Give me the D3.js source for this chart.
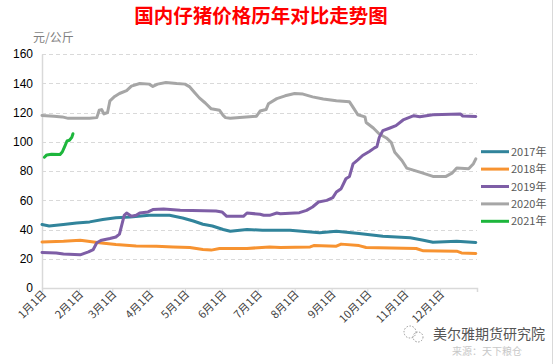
<!DOCTYPE html>
<html><head><meta charset="utf-8">
<script src="https://cdn.jsdelivr.net/npm/d3@7"></script>
<style>
html,body{margin:0;padding:0;background:#fff;}
svg{display:block;font-family:"Microsoft YaHei","Noto Sans CJK SC",sans-serif;}
</style></head>
<body>
<svg id="c" width="554" height="364"></svg>
<script>
// ---- data (day-of-year, value in 元/公斤) ----
const title = "国内仔猪价格历年对比走势图";
const unitLabel = "元/公斤";
const yTicks = [0, 20, 40, 60, 80, 100, 120, 140, 160];
const monthTicks = ["1月1日","2月1日","3月1日","4月1日","5月1日","6月1日","7月1日","8月1日","9月1日","10月1日","11月1日","12月1日"];
const seriesNames = ["2017年","2018年","2019年","2020年","2021年"];
const seriesColors = ["#31849B","#F79331","#7E5EA6","#A6A6A6","#1DB63C"];

const days2017 = [0,6,18,29,40,51,62,74,90,107,118,127,135,143,152,158,172,185,200,208,233,247,266,286,309,320,328,348,364];
const vals2017 = [43.4,42.4,43.4,44.5,45.2,46.8,48.1,48.6,49.7,49.7,47.9,45.8,43.6,42.4,40,38.8,40,39.5,39.5,39.5,37.7,38.8,37.2,35.4,34.3,32.7,31.3,32,31.1];

const days2018 = [0,18,32,37,48,62,79,96,110,124,135,142,149,172,191,200,225,228,247,251,266,272,314,320,348,352,364];
const vals2018 = [31.5,32,32.7,32.2,30.9,29.7,28.8,28.6,28.1,27.7,26.3,25.9,27,27,28.1,27.7,28.1,29,28.6,30,29,27.7,27,25.4,25.2,24,23.6];

const days2019 = [0,12,18,32,39,43,46,50,57,62,65,69,71,75,79,82,89,93,102,116,146,151,155,169,172,183,186,191,197,200,216,222,227,232,239,244,247,251,255,258,261,265,269,275,279,281,283,286,292,297,303,312,317,328,351,353,364];
const vals2019 = [24.3,24,23.2,22.7,24.7,26.3,30.9,32.7,33.8,34.9,36.8,49.7,51.3,49,49.7,51.3,52,53.6,54,53.1,52.6,52,49,49,51.3,50.4,49.7,49.7,51.3,50.8,51.5,53.1,55.4,58.8,59.9,61.8,65.6,67.9,74.7,76.3,84.9,87.6,90.6,93.5,95.8,96.7,103,107.6,109.4,111,114.9,117.8,117.1,118.5,119,117.6,117.3];

const days2020 = [0,10,17,22,30,40,46,48,50,52,55,57,61,65,71,75,82,90,93,97,104,113,120,124,128,132,137,142,149,152,154,158,166,180,183,188,190,197,204,212,219,227,236,247,258,262,265,271,272,278,283,289,293,296,302,306,317,328,339,344,348,358,362,364];
const vals2020 = [118,117.5,117,116,116,116,116.5,121.5,122,119,120,128,131,133,135,138,139.8,139.4,137.8,139.4,140.5,139.8,139.4,137.5,133.7,130,126.5,122.5,121.5,118,116.5,116,116.5,117.5,121,122,126,129.5,131.4,133,132.6,130.7,129.2,128,127.3,122.3,118.5,117,113.2,109.4,105.3,102.6,99.6,92.8,87.2,82,79.2,76.3,76.3,78.5,82,81.5,85,88.3];

const days2021 = [2,4,8,15,17,19,21,23,25,26];
const vals2021 = [89.4,91,91.5,91.2,93,96.7,100.5,101,103,105.5];

const seriesDays = [days2017, days2018, days2019, days2020, days2021];
const seriesVals = [vals2017, vals2018, vals2019, vals2020, vals2021];

// ---- layout ----
const svg = d3.select("#c");
const W = 554, H = 364;
const m = {left: 42, right: 477, top: 54, bottom: 288};
const t0 = new Date(2021, 0, 1), t1 = new Date(2022, 0, 1);
const x = d3.scaleTime().domain([t0, t1]).range([m.left, m.right]);
const y = d3.scaleLinear().domain([0, 160]).range([m.bottom, m.top]);
const dayToDate = d => d3.timeDay.offset(t0, d);

// right border
svg.append("line").attr("x1", 552.5).attr("x2", 552.5).attr("y1", 0).attr("y2", H)
  .attr("stroke", "#d9d9d9").attr("stroke-width", 1);

// title
svg.append("text").attr("x", 261).attr("y", 23).attr("text-anchor", "middle")
  .attr("fill", "#FF0000").attr("font-size", 19.5).attr("font-weight", "bold")
  .style("font-family", "'Noto Sans CJK SC',sans-serif").text(title);

// unit
svg.append("text").attr("x", 33).attr("y", 42).attr("fill", "#7f7f7f")
  .attr("font-size", 12).text(unitLabel);

// grid
svg.append("g").selectAll("line").data(yTicks.filter(v => v > 0)).join("line")
  .attr("x1", m.left).attr("x2", m.right)
  .attr("y1", d => Math.round(y(d)) + 0.5).attr("y2", d => Math.round(y(d)) + 0.5)
  .attr("stroke", "#d9d9d9").attr("stroke-dasharray", "4,3");

// y axis
const yAxis = d3.axisLeft(y).tickValues(yTicks).tickSize(0).tickPadding(9);
const gy = svg.append("g").attr("transform", `translate(${m.left},0)`).call(yAxis);
gy.select(".domain").attr("stroke", "#d9d9d9").attr("stroke-width", 1.5);
gy.selectAll("text").attr("fill", "#000").attr("font-size", 12)
  .style("font-family", "'Liberation Sans',Arial,sans-serif");

// x axis
const monthDates = d3.range(12).map(i => new Date(2021, i, 1)).concat([t1]);
const xAxis = d3.axisBottom(x).tickValues(monthDates).tickSize(4).tickFormat("");
const gx = svg.append("g").attr("transform", `translate(0,${m.bottom})`).call(xAxis);
gx.select(".domain").attr("stroke", "#d9d9d9").attr("stroke-width", 1.5);
gx.selectAll(".tick line").attr("stroke", "#d9d9d9");

svg.append("g").selectAll("text").data(monthTicks).join("text")
  .attr("transform", (d, i) => `translate(${x(new Date(2021, i, 1)) + 5},${m.bottom + 7}) rotate(-45)`)
  .attr("text-anchor", "end").attr("fill", "#404040").attr("font-size", 11)
  .text(d => d);

// lines
const line = d3.line().x(d => x(dayToDate(d[0]))).y(d => y(d[1]));
const order = [3, 0, 1, 2, 4];
order.forEach(i => {
  const pts = seriesDays[i].map((d, k) => [d, seriesVals[i][k]]);
  svg.append("path").datum(pts).attr("d", line)
    .attr("fill", "none").attr("stroke", seriesColors[i]).attr("stroke-width", 3)
    .attr("stroke-linejoin", "round").attr("stroke-linecap", "round");
});

// legend
const lg = svg.append("g");
seriesNames.forEach((n, i) => {
  const yy = 151.7 + i * 17.4;
  lg.append("line").attr("x1", 481).attr("x2", 509).attr("y1", yy).attr("y2", yy)
    .attr("stroke", seriesColors[i]).attr("stroke-width", 3);
  lg.append("text").attr("x", 511).attr("y", yy + 4).attr("fill", "#595959")
    .attr("font-size", 11).text(n);
});

// source watermark
const wm = svg.append("g");
wm.append("circle").attr("cx", 410).attr("cy", 332).attr("r", 6).attr("fill", "none")
  .attr("stroke", "#999").attr("stroke-dasharray", "1.5,1.5");
wm.append("circle").attr("cx", 418).attr("cy", 337).attr("r", 5).attr("fill", "none")
  .attr("stroke", "#999").attr("stroke-dasharray", "1.5,1.5");
wm.append("text").attr("x", 433).attr("y", 339).attr("fill", "#555")
  .attr("font-size", 14).text("美尔雅期货研究院");
wm.append("text").attr("x", 452).attr("y", 355).attr("fill", "#c8c8c8")
  .attr("font-size", 10).text("来源：天下粮仓");
</script>
</body></html>
